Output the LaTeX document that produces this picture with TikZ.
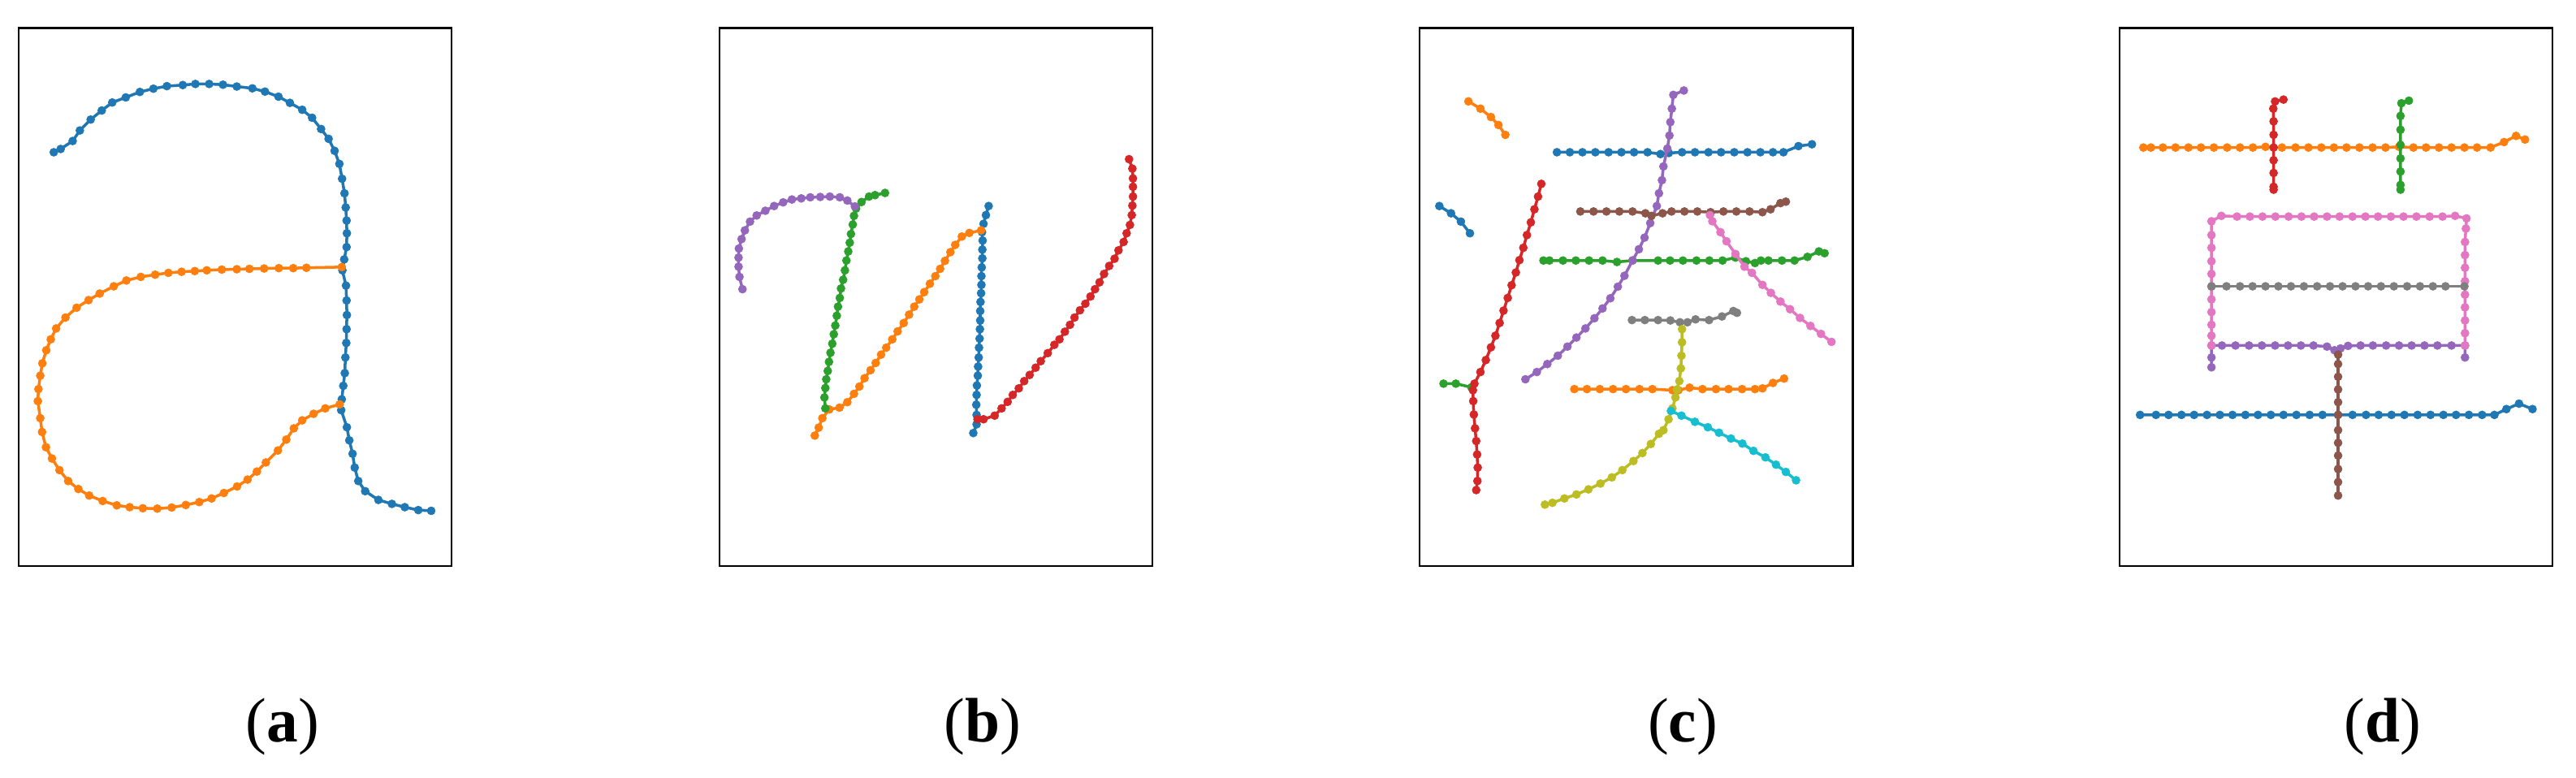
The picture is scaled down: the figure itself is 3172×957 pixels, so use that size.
\documentclass[tikz,border=0pt]{standalone}
\usepackage{fontspec}
\setmainfont{Liberation Serif}
\usepackage{xcolor}
\definecolor{cblue}{HTML}{1F77B4}
\definecolor{corange}{HTML}{FF7F0E}
\definecolor{cgreen}{HTML}{2CA02C}
\definecolor{cred}{HTML}{D62728}
\definecolor{cpurple}{HTML}{9467BD}
\definecolor{cbrown}{HTML}{8C564B}
\definecolor{cpink}{HTML}{E377C2}
\definecolor{cgray}{HTML}{7F7F7F}
\definecolor{colive}{HTML}{BCBD22}
\definecolor{ccyan}{HTML}{17BECF}
\tikzset{
  pen/.style={line width=1pt, line join=round, mark=*, mark size=1.4pt, mark options={line width=0.2pt}},
  frame/.style={line width=0.6pt},
  sublabel/.style={font=\fontsize{22}{26}\selectfont, inner sep=0pt}
}

\begin{document}
\begin{tikzpicture}[x=0.01cm, y=-0.01cm]
\useasboundingbox (0,0) rectangle (3172,957);

% frames
\foreach \lx in {22.6, 885.7, 1748.3, 2609.7}
  \draw[frame] (\lx,34.5) rectangle ++(533.2,662.2);

% Figure (a)
\begin{scope}[shift={(22.6,34.5)}, x=0.0036988cm, y=-0.0044683cm, shift={(-62,-33)}]
\draw[pen, cblue] plot coordinates {(180,375) (203,366) (243,344) (267,315) (303,285) (340,260) (375,238) (420,224) (467,209) (512,200) (557,193) (610,190) (652,187) (698,187) (744,189) (790,194) (842,199) (884,208) (929,222) (967,239) (1008,258) (1041,280) (1071,311) (1096,338) (1116,371) (1132,407) (1141,448) (1149,488) (1153,527) (1156,563) (1157,598) (1156,636) (1148,670) (1142,700) (1154,742) (1156,783) (1157,823) (1156,862) (1155,900) (1152,940) (1150,983) (1145,1018) (1140,1055) (1138,1085) (1157,1132) (1165,1168) (1176,1205) (1183,1243) (1195,1280) (1218,1308) (1262,1332) (1307,1343) (1350,1352) (1395,1360) (1438,1362)};
\draw[pen, corange] plot coordinates {(1140,691) (1022,693) (978,694) (930,694) (881,695) (832,696) (790,697) (740,698) (690,700) (650,702) (606,704) (562,707) (518,712) (470,718) (422,728) (380,744) (333,764) (296,782) (256,803) (219,830) (188,860) (170,890) (155,920) (142,956) (135,990) (129,1027) (127,1060) (135,1107) (141,1145) (154,1187) (174,1218) (199,1250) (228,1280) (262,1302) (298,1320) (343,1335) (390,1347) (433,1352) (477,1355) (525,1356) (573,1353) (620,1346) (665,1338) (706,1328) (747,1313) (791,1295) (826,1276) (857,1254) (887,1229) (927,1196) (955,1166) (980,1135) (1008,1113) (1046,1095) (1085,1080) (1133,1069)};
\end{scope}

% Figure (b)
\begin{scope}[shift={(885.7,34.5)}, x=0.0037014cm, y=-0.0044683cm, shift={(-43,-33)}]
\draw[pen, cblue] plot coordinates {(937,523) (928,548) (920,572) (915,595) (917,618) (916,643) (916,667) (914,692) (913,716) (913,740) (912,763) (910,787) (909,812) (909,838) (908,862) (907,888) (905,913) (904,940) (902,965) (901,990) (898,1017) (897,1043) (896,1070) (897,1098) (897,1124) (886,1148)};
\draw[pen, corange] plot coordinates {(360,1155) (373,1133) (385,1107) (408,1083) (442,1078) (468,1063) (490,1040) (508,1020) (525,997) (545,975) (562,955) (580,932) (597,913) (617,890) (635,868) (655,845) (673,822) (690,800) (707,780) (723,760) (742,737) (760,716) (776,696) (792,674) (810,650) (826,630) (848,607) (873,597) (912,590)};
\draw[pen, cgreen] plot coordinates {(593,487) (560,493) (540,497) (515,512) (497,530) (490,550) (486,574) (480,600) (476,624) (471,648) (465,673) (460,700) (454,726) (447,750) (443,776) (437,800) (433,825) (428,852) (423,876) (418,902) (412,927) (407,952) (403,977) (398,1000) (395,1024) (392,1050) (395,1080)};
\draw[pen, cred] plot coordinates {(1403,394) (1414,420) (1416,447) (1416,470) (1416,497) (1414,522) (1412,548) (1406,575) (1395,598) (1385,622) (1368,645) (1355,668) (1337,688) (1320,710) (1305,733) (1290,752) (1275,772) (1258,792) (1240,810) (1222,830) (1207,850) (1190,869) (1172,890) (1155,905) (1133,928) (1110,950) (1093,968) (1073,988) (1055,1005) (1037,1025) (1017,1043) (1000,1062) (980,1080) (957,1100) (920,1110) (900,1110)};
\draw[pen, cpurple] plot coordinates {(120,752) (110,718) (107,690) (107,665) (108,640) (117,614) (128,590) (145,566) (167,549) (196,536) (225,523) (255,513) (284,505) (315,502) (345,499) (378,498) (410,497) (443,499) (468,508) (493,524)};
\end{scope}

% Figure (c)
\begin{scope}[shift={(1748.3,34.5)}, x=0.0036963cm, y=-0.0044683cm, shift={(-48,-33)}]
\draw[pen, cblue] plot coordinates {(505,375) (548,375) (590,375) (633,375) (677,375) (720,375) (762,375) (807,375) (850,380) (878,377) (922,375) (965,375) (1010,375) (1052,375) (1096,375) (1140,375) (1183,375) (1225,375) (1260,375) (1310,358) (1355,353)};
\draw[pen, cblue] plot coordinates {(113,523) (152,543) (185,566) (215,598)};
\draw[pen, corange] plot coordinates {(210,235) (250,255) (285,278) (310,300) (333,327)};
\draw[pen, corange] plot coordinates {(563,1027) (605,1027) (648,1027) (692,1027) (735,1027) (780,1027) (823,1027) (890,1030) (910,1030) (947,1023) (990,1027) (1035,1027) (1077,1027) (1122,1027) (1165,1027) (1190,1025) (1225,1010) (1262,998)};
\draw[pen, cgreen] plot coordinates {(127,1012) (168,1012) (220,1022)};
\draw[pen, cgreen] plot coordinates {(460,673) (480,673) (525,673) (568,673) (612,673) (657,673) (705,677) (757,673) (842,673) (882,673) (925,673) (970,673) (1013,673) (1057,673) (1100,665) (1135,675) (1165,680) (1185,673) (1210,673) (1255,673) (1297,673) (1340,663) (1378,648) (1397,653)};
\draw[pen, cred] plot coordinates {(453,462) (442,497) (430,532) (418,568) (405,603) (393,638) (380,672) (368,706) (354,741) (341,776) (327,811) (314,845) (300,880) (285,912) (268,947) (250,980) (230,1012) (225,1030) (226,1060) (228,1097) (232,1135) (236,1170) (239,1207) (241,1243) (240,1280) (236,1305)};
\draw[pen, cpurple] plot coordinates {(928,205) (893,217) (888,255) (883,292) (880,329) (873,365) (860,414) (855,452) (845,488) (838,523) (816,570) (797,610) (778,642) (757,673) (730,715) (708,745) (683,777) (657,805) (630,832) (600,860) (570,885) (540,910) (508,935) (473,958) (438,980) (400,1000)};
\draw[pen, cbrown] plot coordinates {(583,538) (627,538) (670,538) (713,538) (757,538) (800,543) (820,550) (857,543) (887,538) (930,538) (973,538) (1017,540) (1060,538) (1103,538) (1147,538) (1190,540) (1217,532) (1250,515) (1268,511)};
\draw[pen, cpink] plot coordinates {(1015,548) (1023,565) (1050,595) (1070,620) (1100,655) (1130,690) (1155,707) (1190,740) (1218,762) (1250,786) (1282,807) (1315,831) (1350,853) (1385,875) (1420,897)};
\draw[pen, cgray] plot coordinates {(755,837) (798,837) (842,837) (883,838) (915,843) (940,843) (967,835) (1012,837) (1055,827) (1093,812) (1105,817)};
\draw[pen, colive] plot coordinates {(922,862) (922,898) (920,935) (918,970) (913,1005) (905,1028) (900,1050) (890,1080) (877,1110) (860,1140) (845,1150) (818,1178) (790,1203) (760,1225) (723,1250) (688,1270) (650,1287) (610,1303) (570,1317) (530,1328) (490,1340) (465,1345)};
\draw[pen, ccyan] plot coordinates {(885,1087) (920,1100) (965,1117) (1008,1132) (1045,1147) (1085,1163) (1123,1177) (1160,1197) (1200,1215) (1235,1235) (1268,1255) (1302,1278)};
\end{scope}

% Figure (d)
\begin{scope}[shift={(2609.7,34.5)}, x=0.0036983cm, y=-0.0044683cm, shift={(-53,-33)}]
\draw[pen, cblue] plot coordinates {(122,1098) (175,1098) (217,1098) (260,1098) (302,1098) (345,1098) (388,1098) (430,1098) (473,1098) (515,1098) (558,1098) (600,1098) (643,1098) (687,1098) (730,1098) (782,1098) (830,1098) (875,1098) (917,1098) (960,1098) (1003,1098) (1047,1098) (1090,1098) (1133,1098) (1175,1098) (1218,1098) (1262,1098) (1303,1098) (1343,1082) (1385,1067) (1430,1082)};
\draw[pen, corange] plot coordinates {(133,362) (158,362) (198,362) (240,362) (283,362) (325,362) (368,362) (412,362) (455,362) (498,362) (540,360) (595,362) (640,362) (683,362) (726,362) (768,362) (810,362) (853,362) (897,362) (940,362) (985,360) (1033,362) (1075,362) (1118,362) (1160,362) (1203,362) (1245,362) (1290,362) (1335,347) (1375,330) (1405,340)};
\draw[pen, cgreen] plot coordinates {(1018,233) (993,240) (990,275) (990,313) (990,355) (990,392) (990,428) (990,465) (990,478)};
\draw[pen, cred] plot coordinates {(600,230) (572,235) (566,255) (567,290) (567,327) (567,362) (567,397) (567,432) (567,470) (567,478)};
\draw[pen, cpurple] plot coordinates {(360,967) (360,940) (360,907) (395,907) (440,907) (485,907) (528,907) (572,907) (615,907) (658,907) (700,907) (745,910) (770,920) (790,915) (815,908) (857,907) (898,907) (942,907) (985,907) (1027,907) (1070,907) (1113,907) (1160,907) (1205,907) (1205,940)};
\draw[pen, cbrown] plot coordinates {(782,932) (782,958) (782,993) (782,1028) (782,1063) (782,1098) (782,1140) (782,1175) (782,1210) (782,1247) (782,1283) (782,1320)};
\draw[pen, cpink] plot coordinates {(360,907) (360,880) (360,850) (360,815) (360,780) (360,745) (360,710) (360,675) (360,638) (360,603) (360,565) (393,550) (445,552) (488,552) (530,552) (573,552) (617,552) (660,552) (702,552) (745,552) (787,552) (830,552) (873,552) (915,552) (958,552) (1000,552) (1043,552) (1087,552) (1130,552) (1172,550) (1210,557) (1208,585) (1205,622) (1205,658) (1205,693) (1205,730) (1205,767) (1205,802) (1205,838) (1205,873) (1205,907)};
\draw[pen, cgray] plot coordinates {(360,744) (410,744) (455,744) (497,744) (540,744) (583,744) (625,744) (668,744) (712,744) (755,744) (797,744) (840,744) (882,744) (925,744) (968,744) (1012,744) (1055,744) (1098,744) (1140,744) (1203,744)};
\end{scope}

% sub-figure labels
\node[sublabel] (laba) at (348,895) {(\textbf{a})};
\node[sublabel] (labb) at (1210,895) {(\textbf{b})};
\node[sublabel] (labc) at (2072,895) {(\textbf{c})};
\node[sublabel] (labd) at (2934,895) {(\textbf{d})};
\end{tikzpicture}
\end{document}
